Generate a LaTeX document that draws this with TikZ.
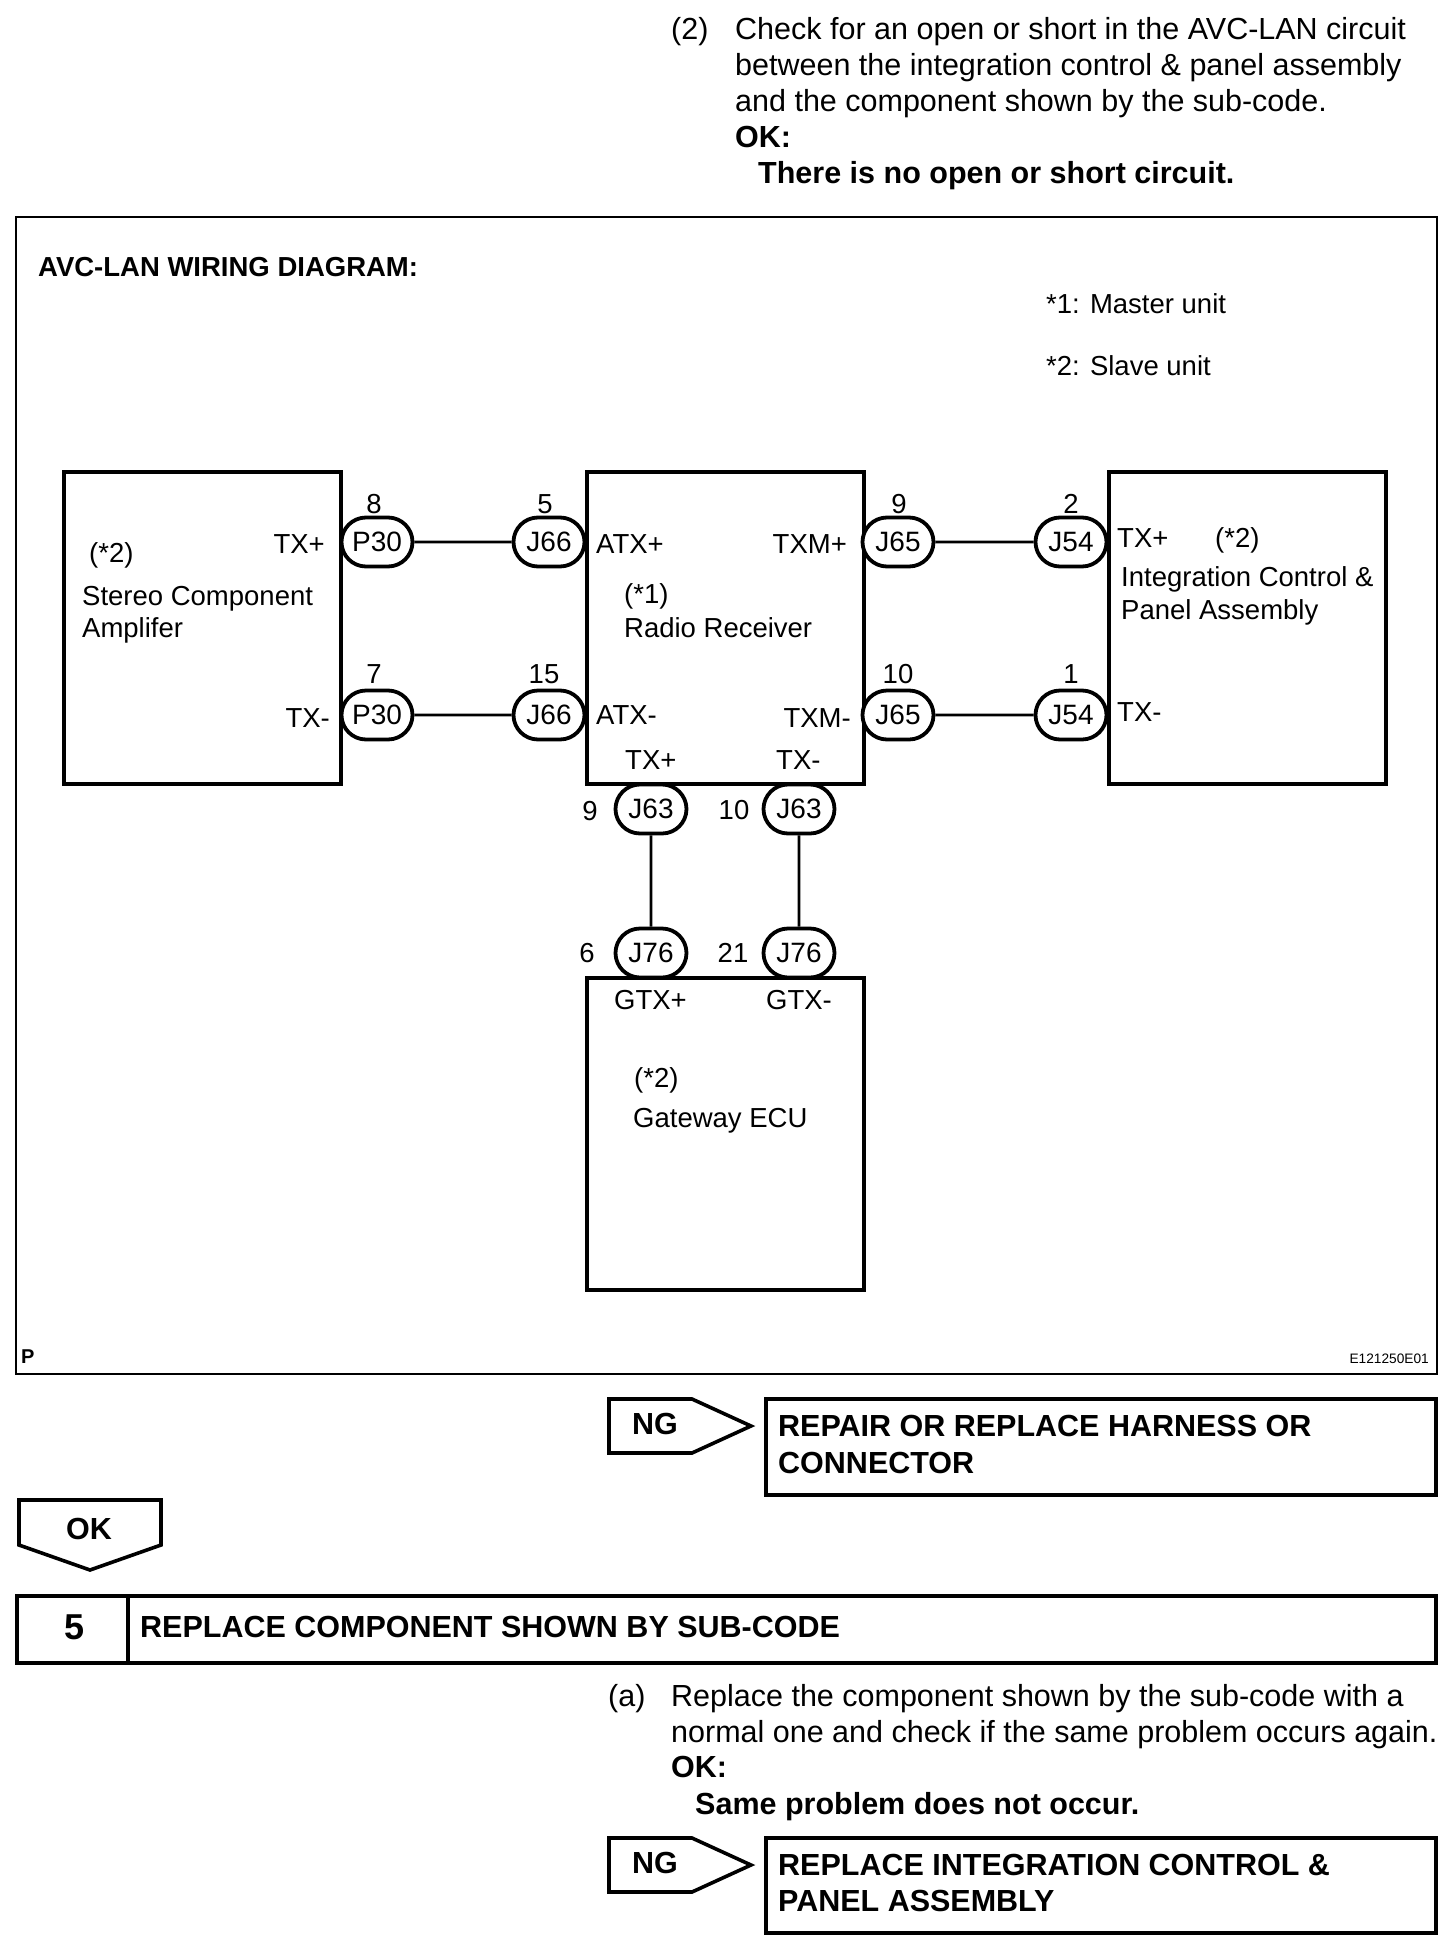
\documentclass[tikz,border=0pt]{standalone}
\usepackage{fontspec}
\setmainfont{Liberation Sans}
\usetikzlibrary{shapes.misc}
\tikzstyle{wiring} = [x = 1pt, y = -1pt]
\tikzstyle{unitBox} = [draw, line width = 4pt, minimum width = 277pt, minimum height = 311.5pt, inner sep = 0]
\tikzstyle{plugStyle} = [draw, fill=white, rounded rectangle, line width = 3.8pt, minimum width = 71pt, minimum height = 49pt, inner sep = 0, font=\fontsize{28}{30}\selectfont]
\tikzstyle{wireLine} = [line width = 2.6pt]
\tikzstyle{plainText} = [anchor = base west, inner sep = 0, font=\fontsize{27.5}{30}\selectfont]
\tikzstyle{bodyText} = [plainText, font=\fontsize{30.5}{33}\selectfont]
\tikzstyle{rightText} = [plainText, anchor = base east]
\tikzstyle{midText} = [plainText, anchor = base]
\tikzstyle{boldText} = [plainText, font=\fontsize{30.5}{33}\selectfont\bfseries]
\tikzstyle{flowBox} = [line width = 3.6pt]
\newcommand{\harnessPlug}[4]{\node [plugStyle] (#1) at (#2,#3) {#4};}
\newcommand{\ngArrow}[2]{\draw [flowBox] (609,#1) -- (692,#1) -- (751,#1 + 27) -- (692,#1 + 54) -- (609,#1 + 54) -- cycle;
  \node [boldText] (#2) at (632,#1 + 35) {NG};}
\begin{document}
\begin{tikzpicture}[wiring]
  \useasboundingbox (0,0) rectangle (1456,1946);
  \draw [line width = 2pt] (16,217) rectangle (1437,1374);

  % units
  \node [unitBox] (stereoUnit) at (202,628) {};
  \node [unitBox] (radioUnit) at (725,628) {};
  \node [unitBox] (panelUnit) at (1247.5,628) {};
  \node [unitBox] (gatewayUnit) at (725,1134) {};

  % plugs
  \harnessPlug{plugA}{377}{542}{P30}
  \harnessPlug{plugB}{549}{542}{J66}
  \harnessPlug{plugC}{377}{715}{P30}
  \harnessPlug{plugD}{549}{715}{J66}
  \harnessPlug{plugE}{898}{542}{J65}
  \harnessPlug{plugF}{1071}{542}{J54}
  \harnessPlug{plugG}{898}{715}{J65}
  \harnessPlug{plugH}{1071}{715}{J54}
  \harnessPlug{plugJ}{651}{809}{J63}
  \harnessPlug{plugK}{799}{809}{J63}
  \harnessPlug{plugL}{651}{953}{J76}
  \harnessPlug{plugM}{799}{953}{J76}
  \draw [wireLine] (plugA) -- (plugB);
  \draw [wireLine] (plugC) -- (plugD);
  \draw [wireLine] (plugE) -- (plugF);
  \draw [wireLine] (plugG) -- (plugH);
  \draw [wireLine] (plugJ) -- (plugL);
  \draw [wireLine] (plugK) -- (plugM);

  % pin numbers
  \foreach \xpos/\ypos/\pin [count=\i] in {374/513/8, 545/513/5, 899/513/9, 1071/513/2,
      374/683/7, 544/683/15, 898/683/10, 1071/683/1,
      590/820/9, 734/819/10, 587/962/6, 733/962/21}
    \node [midText] (pin\i) at (\xpos,\ypos) {\pin};

  % texts, left aligned
  \foreach \xpos/\ypos/\txt [count=\i] in {1046/313/*1: Master unit, 1046/375/*2: Slave unit,
      89/562/(*2), 82/605/Stereo Component, 82/637/Amplifer,
      596/553/ATX+, 596/724/ATX-, 624/603/(*1), 624/637/Radio Receiver,
      625/769/TX+, 776/769/TX-,
      1117/547/TX+, 1215/547/(*2), 1121/586/Integration Control \&, 1121/619/Panel Assembly, 1117/721/TX-,
      614/1009/GTX+, 766/1009/GTX-, 634/1087/(*2), 633/1127/Gateway ECU}
    \node [plainText] (txt\i) at (\xpos,\ypos) {\txt};
  \foreach \xpos/\ypos/\txt [count=\i] in {671/39/(2), 735/39/Check for an open or short in the AVC-LAN circuit,
      735/75/between the integration control \& panel assembly,
      735/111/and the component shown by the sub-code.,
      608/1706/(a), 671/1706/Replace the component shown by the sub-code with a,
      671/1742/normal one and check if the same problem occurs again.}
    \node [bodyText] (body\i) at (\xpos,\ypos) {\txt};
  \foreach \xpos/\ypos/\txt [count=\i] in {325/553/TX+, 330/727/TX-, 847/553/TXM+, 851/727/TXM-}
    \node [rightText] (rtxt\i) at (\xpos,\ypos) {\txt};

  % bold texts
  \foreach \xpos/\ypos/\txt [count=\i] in {735/147/OK:, 758/183/There is no open or short circuit.,
      778/1436/REPAIR OR REPLACE HARNESS OR, 778/1473/CONNECTOR,
      140/1637/REPLACE COMPONENT SHOWN BY SUB-CODE,
      671/1777/OK:, 695/1814/Same problem does not occur.,
      778/1875/REPLACE INTEGRATION CONTROL \&, 778/1911/PANEL ASSEMBLY}
    \node [boldText] (bold\i) at (\xpos,\ypos) {\txt};
  \node [plainText, font=\fontsize{27.5}{30}\selectfont\bfseries] (diagramTitle) at (38,276) {AVC-LAN WIRING DIAGRAM:};
  \node [boldText, font=\fontsize{20}{22}\selectfont\bfseries] (pageMark) at (21,1363) {P};
  \node [rightText, font=\fontsize{13.7}{16}\selectfont] (figCode) at (1429,1363) {E121250E01};

  % flow
  \ngArrow{1399}{ngA}
  \draw [flowBox] (766,1399) rectangle (1436,1495);
  \draw [flowBox] (19,1500) -- (161,1500) -- (161,1545) -- (90,1570) -- (19,1545) -- cycle;
  \node [midText, font=\fontsize{30.5}{33}\selectfont\bfseries] (okMark) at (89,1539) {OK};
  \draw [flowBox] (17,1596) rectangle (1436,1663);
  \draw [flowBox] (128,1596) -- (128,1663);
  \node [midText, font=\fontsize{36}{38}\selectfont\bfseries] (stepNo) at (75,1639) {5};
  \ngArrow{1838}{ngB}
  \draw [flowBox] (766,1838) rectangle (1436,1933);
\end{tikzpicture}
\end{document}
